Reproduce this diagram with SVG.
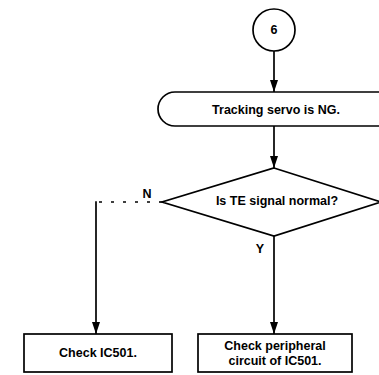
<svg xmlns="http://www.w3.org/2000/svg" width="379" height="375" viewBox="0 0 379 375">
<defs>
<marker id="ah" markerWidth="13" markerHeight="8" refX="12" refY="4" orient="auto" markerUnits="userSpaceOnUse">
<path d="M0,0 L12,4 L0,8 Z" fill="#000"/>
</marker>
</defs>
<style>
.s{fill:#fff;stroke:#000;stroke-width:1.7}
.l{fill:none;stroke:#000;stroke-width:1.7}
.d{fill:none;stroke:#000;stroke-width:1.5;stroke-dasharray:3,9}
.t{font-family:"Liberation Sans",Arial,sans-serif;font-weight:bold;font-size:12.5px;fill:#000;text-anchor:middle;dominant-baseline:central}
</style>
<rect width="379" height="375" fill="#fff"/>
<g id="connectors">
<line class="l" x1="274" y1="51" x2="274" y2="92" marker-end="url(#ah)"/>
<line class="l" x1="274" y1="126" x2="274" y2="168" marker-end="url(#ah)"/>
<line class="d" x1="162" y1="202" x2="96" y2="202"/>
<line class="l" x1="96" y1="201.2" x2="96" y2="334" marker-end="url(#ah)"/>
<line class="l" x1="274" y1="236" x2="274" y2="334" marker-end="url(#ah)"/>
<text class="t" x="147" y="194">N</text>
<text class="t" x="260" y="249">Y</text>
</g>
<g id="start">
<circle class="s" cx="274" cy="30" r="21"/>
<text class="t" x="274" y="30" font-size="13">6</text>
</g>
<g id="tracking">
<path class="s" d="M381,92 H175 A17,17 0 0 0 175,126 H381"/>
<text class="t" x="276" y="110">Tracking servo is NG.</text>
</g>
<g id="decision">
<polygon class="s" points="274,168 381,202 274,236 162,202"/>
<text class="t" x="277" y="201">Is TE signal normal?</text>
</g>
<g id="checkic">
<rect class="s" x="24" y="334" width="148" height="38"/>
<text class="t" x="98" y="353">Check IC501.</text>
</g>
<g id="checkperiph">
<rect class="s" x="198" y="334" width="154" height="38"/>
<text class="t" x="275" y="346">Check peripheral</text>
<text class="t" x="275" y="361">circuit of IC501.</text>
</g>
</svg>
